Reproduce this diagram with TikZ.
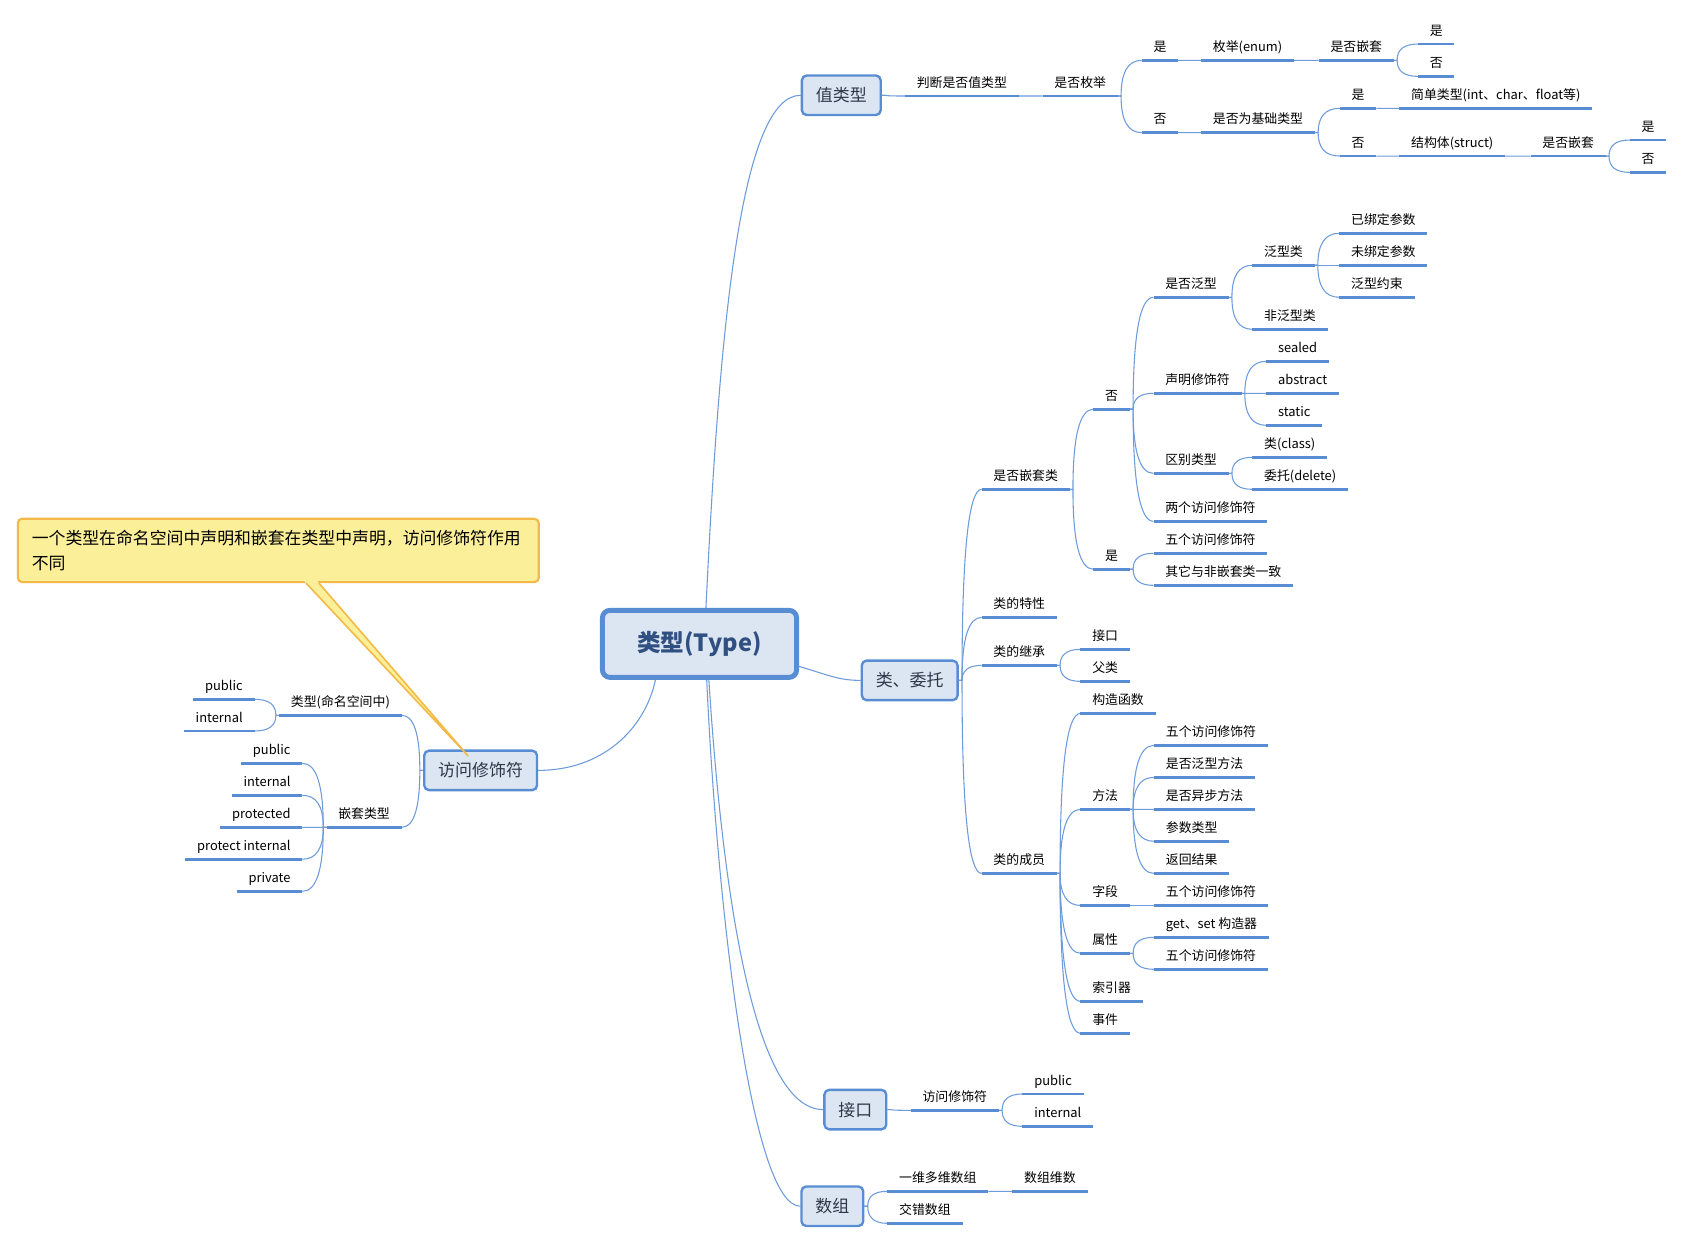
\documentclass[tikz,border=0pt]{standalone}
\usepackage{fontspec}
\setmainfont{Noto Sans CJK SC}
\usetikzlibrary{calc,backgrounds}
\definecolor{ulc}{RGB}{88,141,212}
\definecolor{thinc}{RGB}{110,155,218}
\definecolor{boxfill}{RGB}{220,230,242}
\definecolor{boxtext}{RGB}{45,55,72}
\definecolor{maintext}{RGB}{47,80,128}
\definecolor{notefill}{RGB}{251,239,153}
\definecolor{noteborder}{RGB}{242,186,72}
\tikzset{
  uline/.style={draw=ulc, line width=2.6pt},
  leafbase/.style={font=\fontsize{12}{14}\selectfont, inner xsep=10.8pt, inner ysep=0pt,
    text height=9pt, text depth=8pt,
    append after command={\pgfextra{\let\ulnode\tikzlastnode} (\ulnode.south west) edge[uline] (\ulnode.south east)}},
  rleaf/.style={leafbase, anchor=south west},
  lleaf/.style={leafbase, anchor=south east},
  topic/.style={draw=ulc, fill=boxfill, line width=2.2pt, rounded corners=4.5pt,
    inner xsep=13pt, inner ysep=0pt, minimum height=36.8pt, text height=13.9pt, text depth=1.9pt,
    font=\fontsize{15.8}{18}\selectfont, text=boxtext},
  central/.style={draw=ulc, fill=boxfill, line width=4.6pt, rounded corners=7pt,
    minimum width=180.8pt, minimum height=62.4pt, inner sep=0pt,
    font=\fontsize{22}{26}\selectfont\bfseries, text=maintext},
  note/.style={draw=noteborder, fill=notefill, line width=2pt, rounded corners=4pt,
    inner xsep=13pt, inner ysep=10pt, text width=459pt, align=left, minimum height=59pt,
    font=\fontsize{15.7}{23}\selectfont},
  link/.style={draw=thinc, line width=1pt},
  rc/.style={to path={-- ++(3,0) coordinate (cb)
     .. controls ($(cb)!0.667!(cb |- \tikztotarget)$) and ($(\tikztotarget)!0.667!(cb |- \tikztotarget)$) .. (\tikztotarget)}},
  lc/.style={to path={-- ++(-3,0) coordinate (cb)
     .. controls ($(cb)!0.667!(cb |- \tikztotarget)$) and ($(\tikztotarget)!0.667!(cb |- \tikztotarget)$) .. (\tikztotarget)}},
}
\begin{document}
\begin{tikzpicture}[x=1pt,y=-1pt]
\useasboundingbox (0,0) rectangle (1567,1158);

% main topics
\node[central] (T) at (651.3,599.5) {类型(Type)};
\node[topic] (V) at (783.3,88.7) {值类型};
\node[topic] (C) at (847,633.5) {类、委托};
\node[topic] (L) at (447.5,717.3) {访问修饰符};
\node[topic] (J) at (796.4,1033.1) {接口};
\node[topic] (A) at (775,1123.1) {数组};

% value type subtree
\node[rleaf] (v1) at (842.6,89.4) {判断是否值类型};
\node[rleaf] (v2) at (970.8,89.4) {是否枚举};
\node[rleaf] (v3) at (1063,56.2) {是};
\node[rleaf] (v4) at (1063,123.5) {否};
\node[rleaf] (v5) at (1118.3,56.2) {枚举(enum)};
\node[rleaf] (v6) at (1227.8,56.2) {是否嵌套};
\node[rleaf] (v7) at (1320.2,41) {是};
\node[rleaf] (v8) at (1320.2,71.1) {否};
\node[rleaf] (v9) at (1118.3,123.5) {是否为基础类型};
\node[rleaf] (v10) at (1247.5,100.9) {是};
\node[rleaf] (v11) at (1247.5,145.3) {否};
\node[rleaf] (v12) at (1302.9,100.9) {简单类型(int、char、float等)};
\node[rleaf] (v13) at (1302.9,145.3) {结构体(struct)};
\node[rleaf] (v14) at (1425.1,145.3) {是否嵌套};
\node[rleaf] (v15) at (1517.5,130.4) {是};
\node[rleaf] (v16) at (1517.5,160.5) {否};

% class subtree
\node[rleaf] (c1) at (914,455.6) {是否嵌套类};
\node[rleaf] (c2) at (914,574.8) {类的特性};
\node[rleaf] (c3) at (914,619.5) {类的继承};
\node[rleaf] (c4) at (914,813.2) {类的成员};
\node[rleaf] (c11) at (1018,381) {否};
\node[rleaf] (c12) at (1018,530) {是};
\node[rleaf] (c111) at (1074,276.8) {是否泛型};
\node[rleaf] (c112) at (1074,366.2) {声明修饰符};
\node[rleaf] (c113) at (1074,440.7) {区别类型};
\node[rleaf] (c114) at (1074,485.4) {两个访问修饰符};
\node[rleaf] (c121) at (1074,515.2) {五个访问修饰符};
\node[rleaf] (c122) at (1074,545) {其它与非嵌套类一致};
\node[rleaf] (g1) at (1166,247) {泛型类};
\node[rleaf] (g2) at (1166,306.6) {非泛型类};
\node[rleaf] (g11) at (1247,217.2) {已绑定参数};
\node[rleaf] (g12) at (1247,247) {未绑定参数};
\node[rleaf] (g13) at (1247,276.8) {泛型约束};
\node[rleaf] (s1) at (1179,336.4) {sealed};
\node[rleaf] (s2) at (1179,366.2) {abstract};
\node[rleaf] (s3) at (1179,396) {static};
\node[rleaf] (k1) at (1166,425.8) {类(class)};
\node[rleaf] (k2) at (1166,455.6) {委托(delete)};
\node[rleaf] (i1) at (1006,604.6) {接口};
\node[rleaf] (i2) at (1006,634.4) {父类};
\node[rleaf] (m1) at (1006,664.2) {构造函数};
\node[rleaf] (m2) at (1006,753.6) {方法};
\node[rleaf] (m3) at (1006,843) {字段};
\node[rleaf] (m4) at (1006,887.6) {属性};
\node[rleaf] (m5) at (1006,932.3) {索引器};
\node[rleaf] (m6) at (1006,962.1) {事件};
\node[rleaf] (m21) at (1074.5,694) {五个访问修饰符};
\node[rleaf] (m22) at (1074.5,723.8) {是否泛型方法};
\node[rleaf] (m23) at (1074.5,753.6) {是否异步方法};
\node[rleaf] (m24) at (1074.5,783.3) {参数类型};
\node[rleaf] (m25) at (1074.5,813.2) {返回结果};
\node[rleaf] (m31) at (1074.5,843) {五个访问修饰符};
\node[rleaf] (m41) at (1074.5,872.7) {get、set 构造器};
\node[rleaf] (m42) at (1074.5,902.5) {五个访问修饰符};

% interface / array
\node[rleaf] (j1) at (848,1033.8) {访问修饰符};
\node[rleaf] (j11) at (952,1018.6) {public};
\node[rleaf] (j12) at (952,1048.7) {internal};
\node[rleaf] (a1) at (826.2,1109.2) {一维多维数组};
\node[rleaf] (a2) at (826.2,1139) {交错数组};
\node[rleaf] (a11) at (942.6,1109.2) {数组维数};

% access modifier subtree (left)
\node[lleaf] (l1) at (374,666) {类型(命名空间中)};
\node[lleaf] (l2) at (374,770.3) {嵌套类型};
\node[lleaf] (l11) at (237,651.1) {public};
\node[lleaf] (l12) at (237,680.6) {internal};
\node[lleaf] (l21) at (281.5,710.7) {public};
\node[lleaf] (l22) at (281.5,740.5) {internal};
\node[lleaf] (l23) at (281.5,770.3) {protected};
\node[lleaf] (l24) at (281.5,800) {protect internal};
\node[lleaf] (l25) at (281.5,829.9) {private};

% callout
\node[note, anchor=north west] (N) at (15.6,482) {一个类型在命名空间中声明和嵌套在类型中声明，访问修饰符作用\\不同};
\fill[notefill] ($(N.south west)+(266.6,-3)$) -- ($(L.north)+(-11.7,6)$) -- ($(N.south west)+(278.9,-3)$) -- cycle;
\draw[noteborder, line width=1.5pt, line join=round] ($(N.south west)+(269.4,0)$) -- ($(L.north)+(-11.7,6)$) -- ($(N.south west)+(281.4,0)$);

\begin{pgfonlayer}{background}
% central connectors
\draw[link] ($(T.north)+(6,0)$) .. controls (670,300) and (690,88.7) .. (V.west);
\draw[link] ($(T.east)+(0,21)$) .. controls (770,628) and (780,633.5) .. (C.west);
\draw[link] ($(T.south)+(-41,0)$) .. controls (600,680) and (560,717.3) .. (L.east);
\draw[link] ($(T.south)+(8.7,0)$) .. controls (672,820) and (700,1033.1) .. (J.west);
\draw[link] ($(T.south)+(6.7,0)$) .. controls (668,850) and (700,1123.1) .. (A.west);
% value type
\draw[link] (V.east) to[rc] (v1.south west);
\draw[link] (v1.south east) to[rc] (v2.south west);
\draw[link] (v2.south east) to[rc] (v3.south west);
\draw[link] (v2.south east) to[rc] (v4.south west);
\draw[link] (v3.south east) to[rc] (v5.south west);
\draw[link] (v5.south east) to[rc] (v6.south west);
\draw[link] (v6.south east) to[rc] (v7.south west);
\draw[link] (v6.south east) to[rc] (v8.south west);
\draw[link] (v4.south east) to[rc] (v9.south west);
\draw[link] (v9.south east) to[rc] (v10.south west);
\draw[link] (v9.south east) to[rc] (v11.south west);
\draw[link] (v10.south east) to[rc] (v12.south west);
\draw[link] (v11.south east) to[rc] (v13.south west);
\draw[link] (v13.south east) to[rc] (v14.south west);
\draw[link] (v14.south east) to[rc] (v15.south west);
\draw[link] (v14.south east) to[rc] (v16.south west);
% class
\draw[link] (C.east) to[rc] (c1.south west);
\draw[link] (C.east) to[rc] (c2.south west);
\draw[link] (C.east) to[rc] (c3.south west);
\draw[link] (C.east) to[rc] (c4.south west);
\draw[link] (c1.south east) to[rc] (c11.south west);
\draw[link] (c1.south east) to[rc] (c12.south west);
\draw[link] (c11.south east) to[rc] (c111.south west);
\draw[link] (c11.south east) to[rc] (c112.south west);
\draw[link] (c11.south east) to[rc] (c113.south west);
\draw[link] (c11.south east) to[rc] (c114.south west);
\draw[link] (c12.south east) to[rc] (c121.south west);
\draw[link] (c12.south east) to[rc] (c122.south west);
\draw[link] (c111.south east) to[rc] (g1.south west);
\draw[link] (c111.south east) to[rc] (g2.south west);
\draw[link] (g1.south east) to[rc] (g11.south west);
\draw[link] (g1.south east) to[rc] (g12.south west);
\draw[link] (g1.south east) to[rc] (g13.south west);
\draw[link] (c112.south east) to[rc] (s1.south west);
\draw[link] (c112.south east) to[rc] (s2.south west);
\draw[link] (c112.south east) to[rc] (s3.south west);
\draw[link] (c113.south east) to[rc] (k1.south west);
\draw[link] (c113.south east) to[rc] (k2.south west);
\draw[link] (c3.south east) to[rc] (i1.south west);
\draw[link] (c3.south east) to[rc] (i2.south west);
\foreach \m in {m1,m2,m3,m4,m5,m6} {\draw[link] (c4.south east) to[rc] (\m.south west);}
\foreach \m in {m21,m22,m23,m24,m25} {\draw[link] (m2.south east) to[rc] (\m.south west);}
\draw[link] (m3.south east) to[rc] (m31.south west);
\draw[link] (m4.south east) to[rc] (m41.south west);
\draw[link] (m4.south east) to[rc] (m42.south west);
% interface / array
\draw[link] (J.east) to[rc] (j1.south west);
\draw[link] (j1.south east) to[rc] (j11.south west);
\draw[link] (j1.south east) to[rc] (j12.south west);
\draw[link] (A.east) to[rc] (a1.south west);
\draw[link] (A.east) to[rc] (a2.south west);
\draw[link] (a1.south east) to[rc] (a11.south west);
% left
\draw[link] (L.west) to[lc] (l1.south east);
\draw[link] (L.west) to[lc] (l2.south east);
\draw[link] (l1.south west) to[lc] (l11.south east);
\draw[link] (l1.south west) to[lc] (l12.south east);
\foreach \m in {l21,l22,l23,l24,l25} {\draw[link] (l2.south west) to[lc] (\m.south east);}
\end{pgfonlayer}
\end{tikzpicture}
\end{document}
